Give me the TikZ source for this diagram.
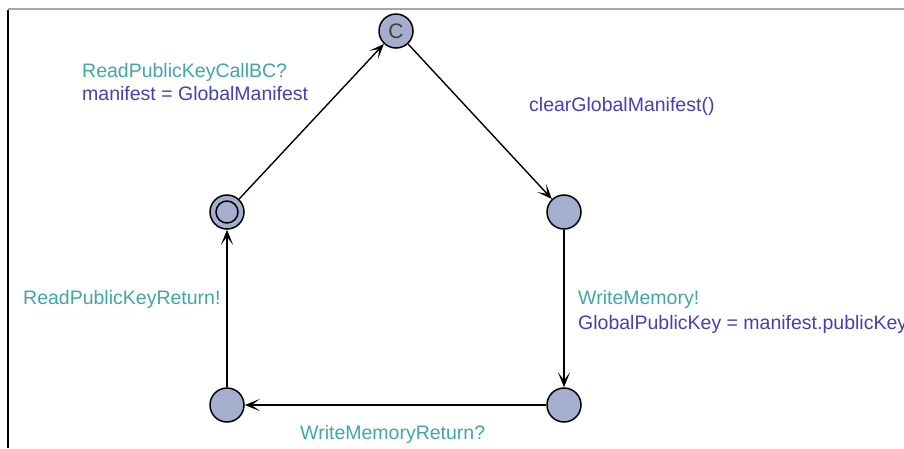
\documentclass[tikz,border=0pt]{standalone}
\usepackage{fontspec}
\setmainfont{Liberation Sans}
\usetikzlibrary{arrows.meta}
\definecolor{syncteal}{RGB}{64,166,166}
\definecolor{updblue}{RGB}{68,64,176}
\definecolor{locfill}{RGB}{166,174,206}
\tikzset{
  loc/.style={circle, draw=black, line width=1.5pt, fill=locfill, minimum size=34pt, inner sep=0pt},
  edge/.style={draw=black, line width=1.4pt, -{Stealth[length=15pt, width=12pt, inset=8pt]}},
  synclbl/.style={anchor=west, inner sep=0pt, text=syncteal, font=\fontsize{19.5}{22}\selectfont},
  updlbl/.style={anchor=west, inner sep=0pt, text=updblue, font=\fontsize{19.5}{22}\selectfont},
}
\begin{document}
\begin{tikzpicture}[x=1pt, y=-1pt]
  \useasboundingbox (0,0) rectangle (904,448);
  \clip (0,0) rectangle (904,448);
  % frame edges
  \draw[gray!70, line width=1.5pt] (8,9) -- (904,9);
  \draw[black, line width=1.5pt] (8,10) -- (8,448);

  % locations
  \node[loc] (c) at (396,31) {};
  \node[font=\fontsize{21}{22}\selectfont, text=black!75] at (c) {C};
  \node[loc] (init) at (227,212) {};
  \draw[line width=1.5pt] (init.center) circle (11pt);
  \node[loc] (rt) at (564,212) {};
  \node[loc] (rb) at (564,405) {};
  \node[loc] (lb) at (227,405) {};

  % transitions
  \draw[edge] (init) -- (c);
  \draw[edge] (c) -- (rt);
  \draw[edge] (rt) -- (rb);
  \draw[edge] (rb) -- (lb);
  \draw[edge] (lb) -- (init);

  % labels
  \node[synclbl] (s1) at (82,72) {ReadPublicKeyCallBC?};
  \node[updlbl] (u1) at (82,94) {manifest = GlobalManifest};
  \node[updlbl] (u2) at (529,106) {clearGlobalManifest()};
  \node[synclbl] (s3) at (578,299) {WriteMemory!};
  \node[updlbl] (u3) at (578,324) {GlobalPublicKey = manifest.publicKey};
  \node[synclbl] (s5) at (23,299) {ReadPublicKeyReturn!};
  \node[synclbl] (s4) at (300,434) {WriteMemoryReturn?};
\end{tikzpicture}
\end{document}
